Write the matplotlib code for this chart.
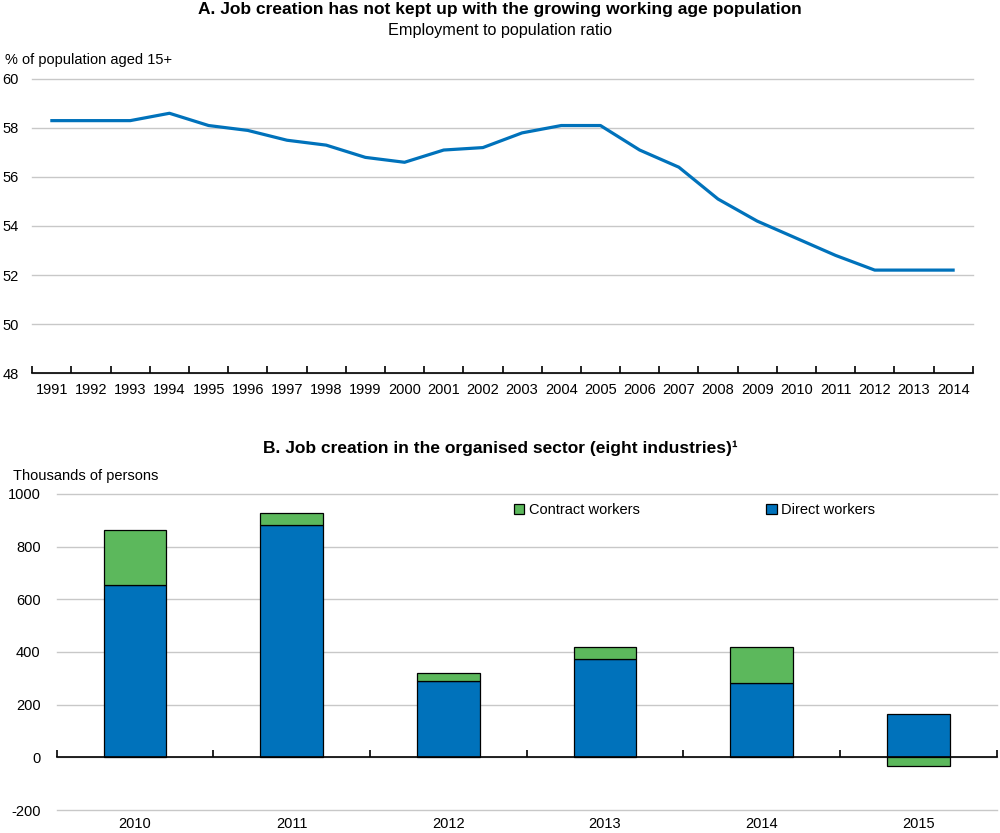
import matplotlib
matplotlib.use("Agg")
import matplotlib.pyplot as plt
import numpy as np

plt.rcParams['font.family'] = ['Liberation Sans', 'DejaVu Sans']
plt.rcParams['axes.unicode_minus'] = False

# Panel A: employment to population ratio
years_a = [str(y) for y in range(1991, 2015)]
emp_ratio = [58.3, 58.3, 58.3, 58.6, 58.1, 57.9, 57.5, 57.3, 56.8, 56.6, 57.1, 57.2,
             57.8, 58.1, 58.1, 57.1, 56.4, 55.1, 54.2, 53.5, 52.8, 52.2, 52.2, 52.2]

# Panel B: job creation, thousands of persons
years_b = ['2010', '2011', '2012', '2013', '2014', '2015']
direct = [653, 881, 289, 374, 283, 164]
contract = [210, 48, 30, 44, 135, -33]

BLUE = '#0072BB'
GREEN = '#5CB85C'
GRID = '#C8C8C8'
FS = 10.5

fig = plt.figure(figsize=(10, 8.33), dpi=100)

# ---- panel A ----
ax1 = fig.add_axes([0.0323, 0.5522, 0.9404, 0.353])
x = np.arange(len(years_a))
ax1.plot(x, emp_ratio, color=BLUE, lw=2.3, solid_joinstyle='round')
ax1.set_xlim(-0.5, len(years_a) - 0.5)
ax1.set_ylim(48, 60)
ax1.set_yticks(np.arange(48, 61, 2))
ax1.set_xticks(x)
ax1.set_xticklabels(years_a)
ax1.set_xticks(np.arange(-0.5, len(years_a)), minor=True)
ax1.tick_params(axis='x', which='major', length=0, pad=7, labelsize=FS)
ax1.tick_params(axis='x', which='minor', direction='in', length=5, width=1.2)
ax1.tick_params(axis='y', length=0, pad=10, labelsize=FS)
ax1.grid(axis='y', color=GRID, lw=1)
ax1.set_axisbelow(True)
for s in ['top', 'right', 'left']:
    ax1.spines[s].set_visible(False)
ax1.spines['bottom'].set_linewidth(1.2)
for gl in ax1.get_ygridlines():
    gl.set_clip_on(False)

fig.text(0.5, 0.988, 'A. Job creation has not kept up with the growing working age population',
         ha='center', va='center', fontsize=12.5, fontweight='bold')
fig.text(0.5, 0.963, 'Employment to population ratio', ha='center', va='center', fontsize=11.7)
fig.text(0.005, 0.928, '% of population aged 15+', ha='left', va='center', fontsize=FS)

# ---- panel B ----
ax2 = fig.add_axes([0.0567, 0.0276, 0.94, 0.3794])
xb = np.arange(len(years_b))
contract_bottom = [d if c >= 0 else 0 for d, c in zip(direct, contract)]
ax2.bar(xb, direct, width=0.4, color=BLUE, edgecolor='black', lw=0.9, label='Direct workers')
ax2.bar(xb, contract, width=0.4, bottom=contract_bottom, color=GREEN, edgecolor='black',
        lw=0.9, label='Contract workers')
ax2.set_xlim(-0.5, len(years_b) - 0.5)
ax2.set_ylim(-200, 1000)
ax2.set_yticks(np.arange(-200, 1001, 200))
ax2.set_xticks(xb)
ax2.set_xticklabels(years_b)
ax2.set_xticks(np.arange(-0.5, len(years_b)), minor=True)
ax2.spines['bottom'].set_position(('data', 0))
ax2.spines['bottom'].set_linewidth(1.2)
ax2.spines['bottom'].set_zorder(3)
ax2.tick_params(axis='x', which='major', length=0, pad=43, labelsize=FS)
ax2.tick_params(axis='x', which='minor', direction='in', length=5, width=1.2)
ax2.tick_params(axis='y', length=0, pad=11.5, labelsize=FS)
ax2.grid(axis='y', color=GRID, lw=1)
ax2.set_axisbelow(True)
for s in ['top', 'right', 'left']:
    ax2.spines[s].set_visible(False)
for gl in ax2.get_ygridlines():
    gl.set_clip_on(False)

handles, labels = ax2.get_legend_handles_labels()
ax2.legend(handles[::-1], labels[::-1], ncol=2, frameon=False, fontsize=FS,
           loc='center left', bbox_to_anchor=(0.514, 0.388), bbox_transform=fig.transFigure,
           handlelength=0.7, handleheight=0.7, handletextpad=0.3, columnspacing=8.7,
           borderpad=0, borderaxespad=0)

fig.text(0.5, 0.462, 'B. Job creation in the organised sector (eight industries)\u00b9',
         ha='center', va='center', fontsize=12.5, fontweight='bold')
fig.text(0.013, 0.4286, 'Thousands of persons', ha='left', va='center', fontsize=FS)

fig.savefig('out.png', dpi=100)
